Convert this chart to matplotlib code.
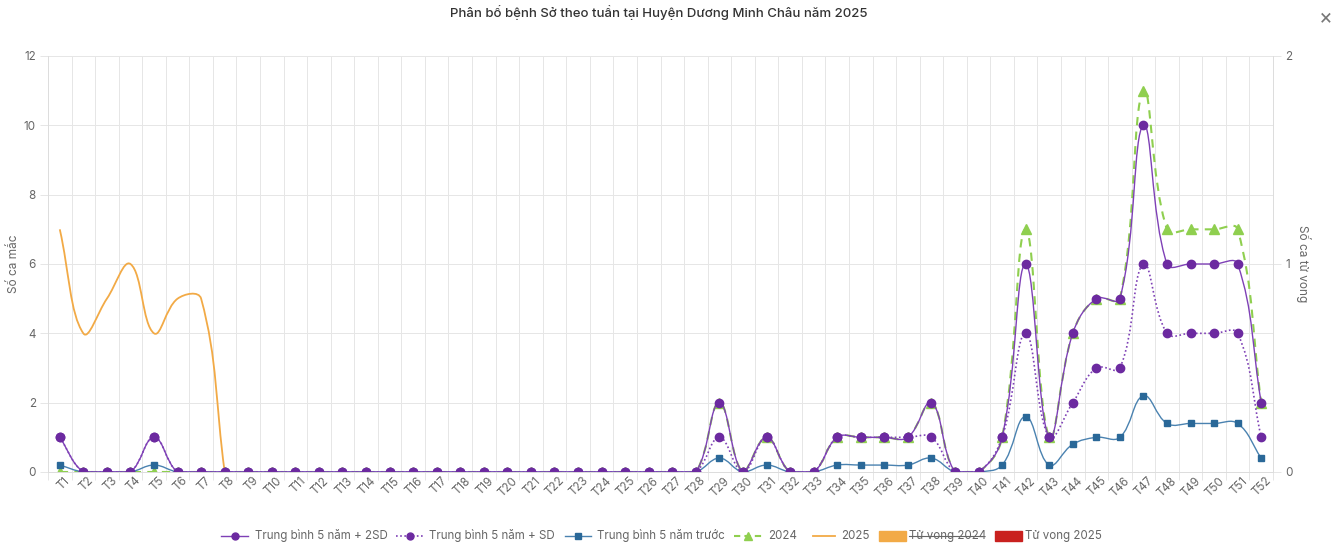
import numpy as np
import matplotlib

matplotlib.use("Agg")

import matplotlib.pyplot as plt  # noqa: E402
from matplotlib.path import Path  # noqa: E402
from matplotlib.patches import PathPatch, Rectangle  # noqa: E402
from matplotlib.lines import Line2D  # noqa: E402
from matplotlib.transforms import ScaledTranslation  # noqa: E402

plt.rcParams["font.family"] = ["Inter", "DejaVu Sans"]

# ---------------------------------------------------------------- data
weeks = [f"T{i}" for i in range(1, 53)]
mean_2sd = [1, 0, 0, 0, 1, 0, 0, 0, 0, 0, 0, 0, 0, 0, 0, 0, 0, 0, 0, 0, 0, 0, 0, 0, 0, 0, 0, 0,
            2, 0, 1, 0, 0, 1, 1, 1, 1, 2, 0, 0, 1, 6, 1, 4, 5, 5, 10, 6, 6, 6, 6, 2]
mean_sd = [1, 0, 0, 0, 1, 0, 0, 0, 0, 0, 0, 0, 0, 0, 0, 0, 0, 0, 0, 0, 0, 0, 0, 0, 0, 0, 0, 0,
           1, 0, 1, 0, 0, 1, 1, 1, 1, 1, 0, 0, 1, 4, 1, 2, 3, 3, 6, 4, 4, 4, 4, 1]
mean_5y = [0.2, 0, 0, 0, 0.2, 0, 0, 0, 0, 0, 0, 0, 0, 0, 0, 0, 0, 0, 0, 0, 0, 0, 0, 0, 0, 0, 0, 0,
           0.4, 0, 0.2, 0, 0, 0.2, 0.2, 0.2, 0.2, 0.4, 0, 0, 0.2, 1.6, 0.2, 0.8, 1.0, 1.0, 2.2,
           1.4, 1.4, 1.4, 1.4, 0.4]
cases_2024 = [0, 0, 0, 0, 0, 0, 0, 0, 0, 0, 0, 0, 0, 0, 0, 0, 0, 0, 0, 0, 0, 0, 0, 0, 0, 0, 0, 0,
              2, 0, 1, 0, 0, 1, 1, 1, 1, 2, 0, 0, 1, 7, 1, 4, 5, 5, 11, 7, 7, 7, 7, 2]
cases_2025 = [7, 4, 5, 6, 4, 5, 5, 0]  # weeks reported so far
deaths_2024 = [0] * 52
deaths_2025 = [0] * 52

# ---------------------------------------------------------------- palette
PURPLE, PURPLE_L = "#6c2aa0", "#7e40b6"
BLUE, BLUE_L = "#2a6898", "#4a82b0"
GREEN = "#8fcf4f"
ORANGE = "#f2aa46"
RED = "#c9211f"
GRID = "#e6e6e6"
TXT = "#666666"

W, H = 1343, 548
fig = plt.figure(figsize=(W / 100, H / 100), dpi=100)
L, R, T, B = 48, 1273, 56, 472
ax = fig.add_axes([L / W, 1 - B / H, (R - L) / W, (B - T) / H])
ax2 = ax.twinx()
ax.set_xlim(-0.5, 51.5)
ax.set_ylim(0, 12)
ax2.set_ylim(0, 2)


def px(x, y):
    return x / W, 1 - y / H


def smooth(xs, ys, color, lw, ls="-", z=3, tension=0.4):
    # Chart.js style bezier through the points, computed in pixel space
    pts = ax.transData.transform(np.column_stack([xs, ys]))
    bb = ax.bbox
    n = len(pts)
    cp_in, cp_out = [], []
    for i in range(n):
        p0, p1, p2 = pts[max(i - 1, 0)], pts[i], pts[min(i + 1, n - 1)]
        d01 = np.hypot(*(p1 - p0))
        d12 = np.hypot(*(p2 - p1))
        tot = d01 + d12
        s01 = d01 / tot if tot else 0
        s12 = d12 / tot if tot else 0
        a = p1 - tension * s01 * (p2 - p0)
        b = p1 + tension * s12 * (p2 - p0)
        for c in (a, b):
            c[0] = min(max(c[0], bb.x0), bb.x1)
            c[1] = min(max(c[1], bb.y0), bb.y1)
        cp_in.append(a)
        cp_out.append(b)
    verts = [pts[0]]
    codes = [Path.MOVETO]
    for i in range(n - 1):
        verts += [cp_out[i], cp_in[i + 1], pts[i + 1]]
        codes += [Path.CURVE4] * 3
    verts = ax.transData.inverted().transform(np.array(verts))
    ax.add_patch(PathPatch(Path(verts, codes), fill=False, edgecolor=color, lw=lw,
                           linestyle=ls, zorder=z, transform=ax.transData))


x = np.arange(len(weeks))

# death bars on the right axis (all zero)
ax2.bar(x - 0.2, deaths_2024, width=0.4, color=ORANGE, zorder=1)
ax2.bar(x + 0.2, deaths_2025, width=0.4, color=RED, zorder=1)

# drawn bottom to top: 2025, 2024, mean, +SD, +2SD
x25 = np.arange(len(cases_2025))
smooth(x25, cases_2025, ORANGE, 1.3, z=2)
smooth(x, cases_2024, GREEN, 1.5, ls=(0, (4, 3)), z=3)
ax.plot(x, cases_2024, ls="none", marker="^", ms=6.5, color=GREEN, zorder=3.1)
smooth(x, mean_5y, BLUE_L, 1.0, z=4)
ax.plot(x, mean_5y, ls="none", marker="s", ms=5, color=BLUE, zorder=4.1)
smooth(x, mean_sd, PURPLE_L, 1.2, ls=(0, (1, 1.5)), z=5)
ax.plot(x, mean_sd, ls="none", marker="o", ms=6, color=PURPLE, zorder=5.1)
smooth(x, mean_2sd, PURPLE_L, 1.0, z=6)
ax.plot(x, mean_2sd, ls="none", marker="o", ms=6, color=PURPLE, zorder=6.1)

# ---------------------------------------------------------------- axes styling
ax.set_xticks(x)
ax.set_xticklabels(weeks)
ax.set_xticks(np.arange(-0.5, 52, 1), minor=True)
ax.tick_params(axis="x", which="major", length=0, pad=5, labelsize=8.4, labelcolor=TXT)
ax.tick_params(axis="x", which="minor", length=5.8, width=0.7, color=GRID)
off = ScaledTranslation(6 / 72, 0, fig.dpi_scale_trans)
for lab in ax.get_xticklabels():
    lab.set_rotation(45)
    lab.set_ha("right")
    lab.set_va("center")
    lab.set_rotation_mode("anchor")
    lab.set_transform(lab.get_transform() + off)
ax.grid(which="minor", axis="x", color=GRID, lw=0.7)
ax.set_yticks(range(0, 13, 2))
ax.tick_params(axis="y", length=5.8, width=0.7, color=GRID, pad=3, labelsize=8.4, labelcolor=TXT)
ax.grid(which="major", axis="y", color=GRID, lw=0.7)
ax.set_axisbelow(True)

ax2.set_yticks([0, 1, 2])
ax2.tick_params(axis="y", length=5.8, width=0.7, color=GRID, pad=3, labelsize=8.4, labelcolor=TXT)

for a in (ax, ax2):
    a.spines["top"].set_visible(False)
    for side in ("left", "right", "bottom"):
        a.spines[side].set_color("#dddddd")
        a.spines[side].set_linewidth(0.7)

fig.text(*px(14, 264), "Số ca mắc", rotation=90, ha="center", va="center", fontsize=8.5, color=TXT)
fig.text(*px(1304, 264), "Số ca tử vong", rotation=270, ha="center", va="center", fontsize=8.5, color=TXT)

# ---------------------------------------------------------------- title
fig.text(*px(659, 13), "Phân bố bệnh Sở theo tuần tại Huyện Dương Minh Châu năm 2025",
         ha="center", va="center", fontsize=9.5, color="#333333", fontweight="medium")
fig.text(*px(1326, 17), "×", ha="center", va="center", fontsize=15, color="#777777")

# ---------------------------------------------------------------- legend
LY = 536


def leg_line(x0, x1, color, ls="-", lw=1.0, marker=None, ms=5, mcolor=None):
    fig.add_artist(Line2D([x0 / W, x1 / W], [1 - LY / H] * 2, color=color, lw=lw, ls=ls))
    if marker:
        fig.add_artist(Line2D([(x0 + x1) / 2 / W], [1 - LY / H], marker=marker, ms=ms,
                              color=mcolor or color, ls="none"))


def leg_text(x0, s):
    return fig.text(*px(x0, LY), s, ha="left", va="center", fontsize=8.3, color=TXT)


leg_line(221, 248, PURPLE_L, marker="o", ms=5, mcolor=PURPLE)
leg_text(255, "Trung bình 5 năm + 2SD")
leg_line(396, 424, PURPLE_L, ls=(0, (1, 1.5)), lw=1.2, marker="o", ms=5, mcolor=PURPLE)
leg_text(429, "Trung bình 5 năm + SD")
leg_line(565, 591, BLUE_L, marker="s", ms=4.5, mcolor=BLUE)
leg_text(597, "Trung bình 5 năm trước")
leg_line(734, 762, GREEN, ls=(0, (3, 2)), lw=1.5, marker="^", ms=5.5)
leg_text(768, "2024")
leg_line(813, 835, ORANGE, lw=1.3)
leg_text(841, "2025")
fig.add_artist(Rectangle(px(879, LY + 5), 27 / W, 10 / H, color=ORANGE))
leg_text(909, "Tử vong 2024")
fig.add_artist(Line2D([909 / W, 982 / W], [1 - LY / H] * 2, color=TXT, lw=0.8))
fig.add_artist(Rectangle(px(995, LY + 5), 27 / W, 10 / H, color=RED))
leg_text(1025, "Tử vong 2025")

fig.savefig("out.png", dpi=100, facecolor="white")
